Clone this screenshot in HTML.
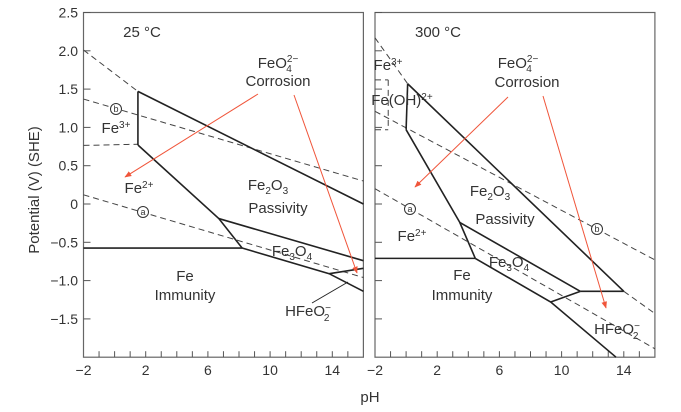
<!DOCTYPE html>
<html><head><meta charset="utf-8"><style>
body{margin:0;background:#fff}
svg{display:block;font-family:"Liberation Sans",sans-serif;fill:#333}
text{font-size:14px}
text.rl{font-size:15px}
</style></head><body>
<svg id="c" width="681" height="412" viewBox="0 0 681 412" xmlns="http://www.w3.org/2000/svg">
<defs><marker id="ar" viewBox="0 0 10 10" refX="9" refY="5" markerWidth="7" markerHeight="7" orient="auto"><path d="M0,1 L10,5 L0,9z" fill="#f0553a"/></marker></defs>
<text transform="translate(39,190) rotate(-90)" text-anchor="middle" style="font-size:15px">Potential (V) (SHE)</text>
<text x="370" y="402" text-anchor="middle" style="font-size:15px">pH</text>
</svg>
<script>
const yTicks=[2.5,2.0,1.5,1.0,0.5,0,-0.5,-1.0,-1.5];
const yTickLabels=["2.5","2.0","1.5","1.0","0.5","0","\u22120.5","\u22121.0","\u22121.5"];
const xTicks=[-2,2,6,10,14];
const xTickLabels=["\u22122","2","6","10","14"];
const solid25=[[1.5,1.47,1.5,0.77],[1.5,1.47,16,0.0],[1.5,0.77,6.7,-0.19,8.2,-0.575],[6.7,-0.19,16,-0.74],[-2,-0.575,8.2,-0.575],[8.2,-0.575,13.8,-0.91,16,-1.14],[13.8,-0.91,16,-0.84]];
const dash25=[[-2,2.01,1.5,1.47],[-2,0.765,1.5,0.78],[-2,1.37,16,0.30],[-2,0.12,16,-0.96]];
const solid300=[[0.1,1.57,0.0,0.97],[0.1,1.57,14.0,-1.14],[0.0,0.97,3.45,-0.24,4.45,-0.71],[3.45,-0.24,11.2,-1.14],[11.2,-1.14,14.0,-1.14],[-2,-0.71,4.45,-0.71],[4.45,-0.71,9.3,-1.28,13.5,-2.0],[9.3,-1.28,11.2,-1.14]];
const dash300=[[-2,2.17,0.1,1.57],[14.0,-1.14,16,-1.43],[-2,1.21,16,-0.73],[-2,0.2,16,-1.89],[-1.15,1.62,-1.15,0.97],[-2,1.62,-1.15,1.62],[-2,0.97,-1.15,0.97]];
const NS="http://www.w3.org/2000/svg";
const svg=document.getElementById('c');
function el(t,a,p){const e=document.createElementNS(NS,t);for(const k in a)e.setAttribute(k,a[k]);(p||svg).appendChild(e);return e;}
const yS=v=>204-v*76.6;
function panel(x0,temp,solid,dash,labels,arrows,name){
  const xS=p=>x0+(p+2)*15.55;
  const g=el('g',{});
  
  
  const r=el('rect',{x:xS(-2),y:yS(2.5),width:18*15.55,height:yS(-2)-yS(2.5),fill:'none',stroke:'#666','stroke-width':1.2},g);
  
  
  for(let p=-1;p<16;p++){const t=el('line',{x1:xS(p),x2:xS(p),y1:yS(-2),y2:yS(-2)-6,stroke:'#555'},g);
    
    }
  yTicks.forEach(v=>{const t=el('line',{x1:xS(-2),x2:xS(-2)+7,y1:yS(v),y2:yS(v),stroke:'#555'},g);
    
    });
  xTicks.forEach((p,i)=>{const t=el('text',{x:xS(p),y:yS(-2)+18,'text-anchor':'middle'},g);t.textContent=xTickLabels[i];
    
    });
  const pts=a=>{let s=[];for(let i=0;i<a.length;i+=2)s.push(xS(a[i])+','+yS(a[i+1]));return s.join(' ');};
  dash.forEach(a=>{const l=el('polyline',{points:pts(a),fill:'none',stroke:'#444','stroke-width':1,'stroke-dasharray':'6,4'},g);
    
    });
  solid.forEach(a=>{const l=el('polyline',{points:pts(a),fill:'none',stroke:'#222','stroke-width':1.6},g);
    
    });
  arrows.forEach(a=>{const l=el('line',{x1:a[0],y1:a[1],x2:a[2],y2:a[3],stroke:a[4]||'#f0553a','stroke-width':1,'marker-end':a[4]?'':'url(#ar)'},g);
    
    });
  labels.forEach(L=>{
    if(L[3]==='c'){const c=el('circle',{cx:L[0],cy:L[1],r:5.5,fill:'#fff',stroke:'#333'},g);
      
      
      const t=el('text',{x:L[0],y:L[1]+3,'text-anchor':'middle',style:'font-size:9px'},g);t.textContent=L[2];
      
      return;}
    const t=el('text',{x:L[0],y:L[1],'text-anchor':'middle','class':'rl'},g);t.innerHTML=L[2];
    
    
  });
}
panel(83.5,'25',solid25,dash25,[
 [142,37,'25 °C'],[116,133,'Fe<tspan dy="-5" style="font-size:10px">3+</tspan>'],[116,109,'b','c'],[143,212,'a','c'],
 [139,193,'Fe<tspan dy="-5" style="font-size:10px">2+</tspan>'],
 [278,68,'FeO<tspan dy="-6" style="font-size:10px">2−</tspan><tspan dx="-12" dy="10" style="font-size:10px">4</tspan>'],[278,86,'Corrosion'],
 [268,190,'Fe<tspan dy="4" style="font-size:10px">2</tspan><tspan dy="-4">O</tspan><tspan dy="4" style="font-size:10px">3</tspan>'],[278,213,'Passivity'],
 [292,256,'Fe<tspan dy="4" style="font-size:10px">3</tspan><tspan dy="-4">O</tspan><tspan dy="4" style="font-size:10px">4</tspan>'],
 [185,281,'Fe'],[185,300,'Immunity'],
 [308,316,'HFeO<tspan dy="-5" style="font-size:10px">−</tspan><tspan dx="-7" dy="10" style="font-size:10px">2</tspan>']
],[[258,94,125,177],[294,95,357,273],[312,303,348,282,'#222']],'panel-25c');
panel(375,'300',solid300,dash300,[
 [438,37,'300 °C'],[388,70,'Fe<tspan dy="-5" style="font-size:10px">3+</tspan>'],[402,105,'Fe(OH)<tspan dy="-5" style="font-size:10px">2+</tspan>'],
 [518,68,'FeO<tspan dy="-6" style="font-size:10px">2−</tspan><tspan dx="-12" dy="10" style="font-size:10px">4</tspan>'],[527,87,'Corrosion'],
 [490,196,'Fe<tspan dy="4" style="font-size:10px">2</tspan><tspan dy="-4">O</tspan><tspan dy="4" style="font-size:10px">3</tspan>'],[505,224,'Passivity'],
 [410,209,'a','c'],[412,241,'Fe<tspan dy="-5" style="font-size:10px">2+</tspan>'],[597,229,'b','c'],
 [509,267,'Fe<tspan dy="4" style="font-size:10px">3</tspan><tspan dy="-4">O</tspan><tspan dy="4" style="font-size:10px">4</tspan>'],
 [462,280,'Fe'],[462,300,'Immunity'],
 [617,334,'HFeO<tspan dy="-5" style="font-size:10px">−</tspan><tspan dx="-7" dy="10" style="font-size:10px">2</tspan>']
],[[508,97,415,187],[543,96,606,308]],'panel-300c');
yTicks.forEach((v,i)=>{const t=el('text',{x:78,y:yS(v)+5,'text-anchor':'end'});t.textContent=yTickLabels[i];
  
  });
</script>
</body></html>
